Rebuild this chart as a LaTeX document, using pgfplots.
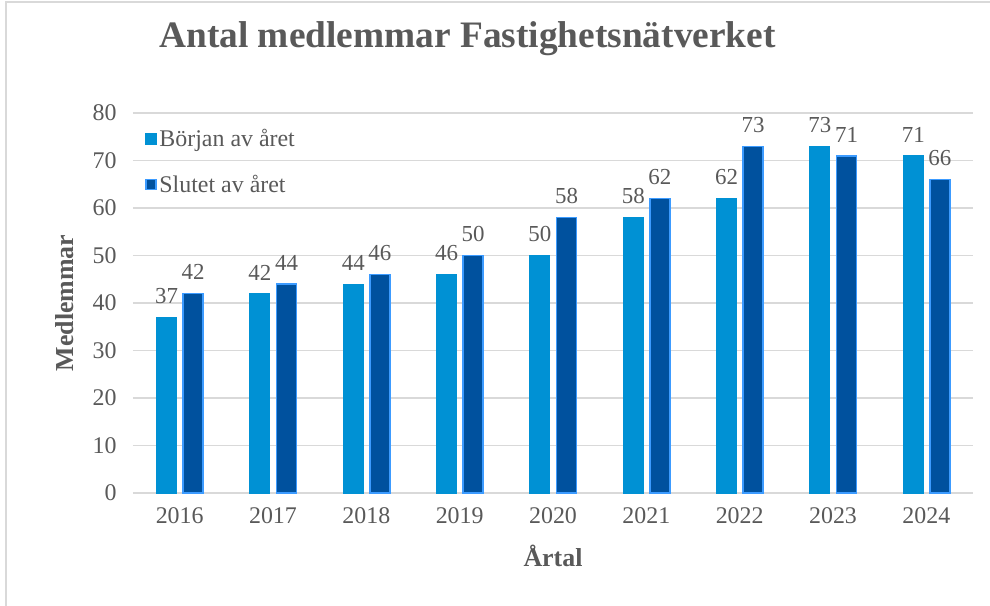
\documentclass[border=0pt]{standalone}
\usepackage{pgfplots}
\pgfplotsset{compat=1.18}
\usepackage{fontspec}
\setmainfont{Liberation Serif}
\definecolor{lb}{RGB}{0,145,212}
\definecolor{db}{RGB}{0,81,158}
\definecolor{dbe}{RGB}{60,155,255}
\definecolor{txt}{RGB}{89,89,89}
\definecolor{grd}{RGB}{217,217,217}
\begin{document}
\begin{tikzpicture}
\begin{axis}[
 name=ax,
 scale only axis, width=840bp, height=380bp,
 xmin=-0.5, xmax=8.5, ymin=0, ymax=80,
 ybar,
 xtick={0,...,8}, xticklabels={2016,2017,2018,2019,2020,2021,2022,2023,2024},
 ytick={0,10,...,80},
 ymajorgrids, grid style={grd, line width=1.3bp},
 axis x line*=bottom, axis y line*=left,
 x axis line style={grd, line width=1.3bp, -},
 y axis line style={draw=none},
 major tick length=0pt,
 tick label style={font=\fontsize{24}{28}\selectfont, text=txt, /pgf/number format/assume math mode=true},
 yticklabel style={xshift=-13bp},
 xticklabel style={yshift=-10.7bp},
 xlabel={Årtal}, ylabel={Medlemmar},
 label style={font=\fontsize{26}{30}\selectfont\bfseries, text=txt},
 xlabel style={at={(axis description cs:0.5,0)}, anchor=base, yshift=-73bp},
 ylabel style={at={(axis description cs:-0.081,0.5)}, anchor=center},
 clip=false,
 legend style={at={(axis description cs:0,1)}, anchor=north west, draw=none, fill=none, inner sep=0pt, row sep=23bp, xshift=12bp, yshift=-14bp, font=\fontsize{24}{28}\selectfont, text=txt},
 legend cell align=left,
 nodes near coords,
 every node near coord/.append style={font=\fontsize{23}{27}\selectfont, text=txt, anchor=south, yshift=9.5bp, /pgf/number format/assume math mode=true},
]
\addplot[bar width=0.215, bar shift=-0.14, fill=lb, draw=lb, line width=1bp,
 legend image code/.code={\fill[lb] (0bp,-5.5bp) rectangle (11bp,5.5bp);}]
 coordinates {(0,37) (1,42) (2,44) (3,46) (4,50) (5,58) (6,62) (7,73) (8,71)};
\addlegendentry{Början av året}
\addplot[bar width=0.215, bar shift=0.145, fill=db, draw=dbe, line width=1.5bp,
 legend image code/.code={\draw[fill=db, draw=dbe, line width=1.5bp] (0bp,-5bp) rectangle (10bp,5bp);}]
 coordinates {(0,42) (1,44) (2,46) (3,50) (4,58) (5,62) (6,73) (7,71) (8,66)};
\addlegendentry{Slutet av året}
\coordinate (sw) at (rel axis cs:0,0);
\end{axis}
\pgfresetboundingbox
\path[use as bounding box] ([shift={(-133bp,-113bp)}]sw) rectangle +(990bp,606bp);
\draw[grd, line width=1.5bp] ([shift={(-127bp,-113bp)}]sw) -- +(0,604bp) -- +(990bp,604bp);
\node[anchor=base, text=txt, font=\fontsize{37.5}{41}\selectfont\bfseries] at ([shift={(334.5bp,445bp)}]sw) {Antal medlemmar Fastighetsnätverket};
\end{tikzpicture}
\end{document}
